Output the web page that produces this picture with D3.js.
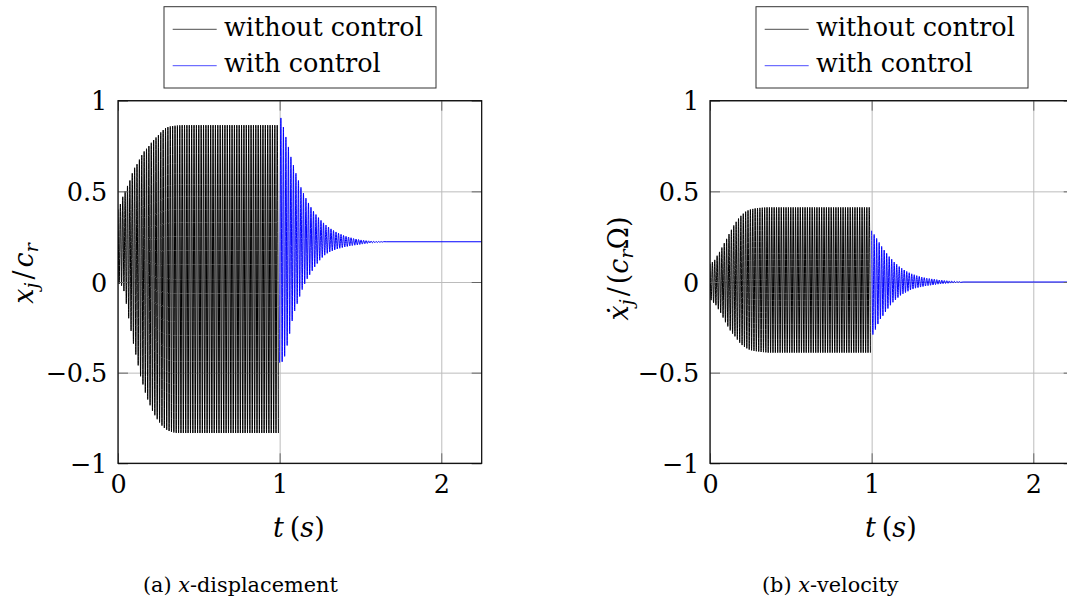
<!DOCTYPE html>
<html>
<head>
<meta charset="utf-8">
<script src="https://cdn.jsdelivr.net/npm/d3@7"></script>
<style>
  html, body { margin: 0; padding: 0; background: #fff; }
  svg { display: block; }
</style>
</head>
<body>
<svg id="fig" width="1067" height="600"></svg>
<script>
// ---- axes ----
const xTicks = [0, 1, 2];
const yTicks = [-1, -0.5, 0, 0.5, 1];
const tMax = 2.25;

// ---- oscillation timing (s) ----
const controlOn = 1.0;        // controller switched on
const periodFree = 0.0147;    // cycle length before switch-on
const periodCtrl = 0.0155;    // cycle length after switch-on

// ---- (a) x-displacement, peak values per cycle ----
const dispFreeUpper = [
  0.40, 0.43, 0.47, 0.50, 0.53, 0.56, 0.60, 0.63, 0.65, 0.675,
  0.70, 0.72, 0.735, 0.75, 0.768, 0.783, 0.797, 0.81, 0.825, 0.838,
  0.848, 0.854, 0.858, 0.86, 0.862, 0.863, 0.864, 0.865, 0.865, 0.865,
  0.865, 0.865, 0.865, 0.865, 0.865, 0.865, 0.865, 0.865, 0.865, 0.865,
  0.865, 0.865, 0.865, 0.865, 0.865, 0.865, 0.865, 0.865, 0.865, 0.865,
  0.865, 0.865, 0.865, 0.865, 0.865, 0.865, 0.865, 0.865, 0.865, 0.865,
  0.865, 0.865, 0.865, 0.865, 0.865, 0.865, 0.865, 0.865
];
const dispFreeLower = [
  -0.01, -0.02, -0.05, -0.12, -0.20, -0.27, -0.34, -0.40, -0.46, -0.52,
  -0.565, -0.61, -0.648, -0.68, -0.71, -0.735, -0.757, -0.775, -0.792, -0.805,
  -0.815, -0.822, -0.826, -0.83, -0.832, -0.833, -0.833, -0.833, -0.833, -0.833,
  -0.833, -0.833, -0.833, -0.833, -0.833, -0.833, -0.833, -0.833, -0.833, -0.833,
  -0.833, -0.833, -0.833, -0.833, -0.833, -0.833, -0.833, -0.833, -0.833, -0.833,
  -0.833, -0.833, -0.833, -0.833, -0.833, -0.833, -0.833, -0.833, -0.833, -0.833,
  -0.833, -0.833, -0.833, -0.833, -0.833, -0.833, -0.833, -0.833
];
const dispCtrlLower = [
  -0.445, -0.44, -0.41, -0.35, -0.285, -0.215, -0.16, -0.12, -0.08, -0.042,
  -0.01, 0.018, 0.04, 0.062, 0.083, 0.102, 0.12, 0.135, 0.148, 0.158,
  0.166, 0.172, 0.177, 0.182, 0.186, 0.19, 0.193, 0.196, 0.199, 0.201,
  0.203, 0.205, 0.207, 0.209, 0.211, 0.213, 0.215, 0.216, 0.217, 0.218,
  0.219, 0.22
];
const dispCtrlUpper = [
  0.905, 0.855, 0.80, 0.745, 0.69, 0.645, 0.60, 0.56, 0.522, 0.49,
  0.462, 0.436, 0.412, 0.39, 0.372, 0.355, 0.34, 0.326, 0.314, 0.303,
  0.293, 0.284, 0.276, 0.269, 0.263, 0.257, 0.252, 0.248, 0.244, 0.24,
  0.237, 0.234, 0.232, 0.23, 0.228, 0.227, 0.226, 0.225, 0.224, 0.2235,
  0.223, 0.2225
];
const dispSteady = 0.222;

// ---- (b) x-velocity, peak values per cycle ----
const velFreeUpper = [
  0.10, 0.11, 0.122, 0.145, 0.166, 0.19, 0.214, 0.238, 0.264, 0.288,
  0.312, 0.332, 0.35, 0.365, 0.377, 0.388, 0.395, 0.40, 0.403, 0.406,
  0.408, 0.409, 0.41, 0.411, 0.412, 0.412, 0.412, 0.412, 0.412, 0.412,
  0.412, 0.412, 0.412, 0.412, 0.412, 0.412, 0.412, 0.412, 0.412, 0.412,
  0.412, 0.412, 0.412, 0.412, 0.412, 0.412, 0.412, 0.412, 0.412, 0.412,
  0.412, 0.412, 0.412, 0.412, 0.412, 0.412, 0.412, 0.412, 0.412, 0.412,
  0.412, 0.412, 0.412, 0.412, 0.412, 0.412, 0.412, 0.412
];
const velFreeLower = [
  -0.10, -0.115, -0.128, -0.15, -0.17, -0.196, -0.222, -0.245, -0.267, -0.285,
  -0.30, -0.318, -0.335, -0.348, -0.358, -0.366, -0.373, -0.377, -0.38, -0.382,
  -0.384, -0.386, -0.387, -0.388, -0.39, -0.39, -0.39, -0.39, -0.39, -0.39,
  -0.39, -0.39, -0.39, -0.39, -0.39, -0.39, -0.39, -0.39, -0.39, -0.39,
  -0.39, -0.39, -0.39, -0.39, -0.39, -0.39, -0.39, -0.39, -0.39, -0.39,
  -0.39, -0.39, -0.39, -0.39, -0.39, -0.39, -0.39, -0.39, -0.39, -0.39,
  -0.39, -0.39, -0.39, -0.39, -0.39, -0.39, -0.39, -0.39
];
const velCtrlUpper = [
  0.283, 0.262, 0.240, 0.218, 0.196, 0.176, 0.158, 0.140, 0.126, 0.110,
  0.098, 0.085, 0.076, 0.066, 0.058, 0.051, 0.045, 0.040, 0.035, 0.031,
  0.027, 0.024, 0.021, 0.019, 0.017, 0.015, 0.013, 0.011, 0.010, 0.008,
  0.007, 0.006, 0.005, 0.004, 0.003, 0.002
];
const velCtrlLower = [
  -0.29, -0.262, -0.232, -0.204, -0.186, -0.165, -0.146, -0.128, -0.112, -0.099,
  -0.086, -0.074, -0.065, -0.058, -0.051, -0.044, -0.039, -0.034, -0.031, -0.028,
  -0.025, -0.022, -0.02, -0.018, -0.016, -0.014, -0.012, -0.011, -0.009, -0.008,
  -0.007, -0.006, -0.005, -0.004, -0.003, -0.002
];
const velSteady = 0;

const legendLabels = ["without control", "with control"];
const seriesColors = ["#000000", "#0000ff"];

// Interleave two peak lists into one time series: first[i] at t0 + i*p,
// second[i] half a cycle later.
function peaksToSeries(first, second, t0, p) {
  const pts = [];
  first.forEach((v, i) => {
    pts.push({ t: t0 + i * p, v });
    pts.push({ t: t0 + (i + 0.5) * p, v: second[i] });
  });
  return pts;
}

const svg = d3.select("#fig");
const serif = "DejaVu Serif";

const panelW = 363.7, panelH = 362.6, panelTop = 100.7;

function drawPanel(cfg) {
  const g = svg.append("g").attr("transform", `translate(${cfg.left},${panelTop})`);
  const x = d3.scaleLinear().domain([0, tMax]).range([0, panelW]);
  const y = d3.scaleLinear().domain([-1, 1]).range([panelH, 0]);

  const clipId = "clip-" + cfg.id;
  g.append("clipPath").attr("id", clipId)
    .append("rect").attr("width", panelW).attr("height", panelH);

  // grid
  const gridX = g.append("g").attr("transform", `translate(0,${panelH})`)
    .call(d3.axisBottom(x).tickValues(xTicks).tickSize(-panelH).tickFormat(""));
  const gridY = g.append("g")
    .call(d3.axisLeft(y).tickValues(yTicks).tickSize(-panelW).tickFormat(""));
  [gridX, gridY].forEach(s => {
    s.select(".domain").remove();
    s.selectAll("line").attr("stroke", "#bcbcbc").attr("stroke-width", 1);
  });

  // signals
  const line = d3.line().x(d => x(d.t)).y(d => y(d.v)).curve(d3.curveMonotoneX);
  const plot = g.append("g").attr("clip-path", `url(#${clipId})`);
  plot.append("path").datum(cfg.free)
    .attr("fill", "none").attr("stroke", seriesColors[0]).attr("stroke-width", 1.0)
    .attr("d", line);
  plot.append("path").datum(cfg.ctrl)
    .attr("fill", "none").attr("stroke", seriesColors[1]).attr("stroke-width", 1.0)
    .attr("d", line);

  // ticks on all four sides, pointing inward
  const tickLen = 10;
  const axB = g.append("g").attr("transform", `translate(0,${panelH})`)
    .call(d3.axisBottom(x).tickValues(xTicks).tickSizeInner(-tickLen).tickSizeOuter(0)
      .tickPadding(11.5).tickFormat(d3.format("~g")));
  const axL = g.append("g")
    .call(d3.axisLeft(y).tickValues(yTicks).tickSizeInner(-tickLen).tickSizeOuter(0)
      .tickPadding(10.7).tickFormat(d3.format("~g")));
  const axT = g.append("g")
    .call(d3.axisTop(x).tickValues(xTicks).tickSizeInner(-tickLen).tickSizeOuter(0).tickFormat(""));
  const axR = g.append("g").attr("transform", `translate(${panelW},0)`)
    .call(d3.axisRight(y).tickValues(yTicks).tickSizeInner(-tickLen).tickSizeOuter(0).tickFormat(""));
  [axB, axL, axT, axR].forEach(s => {
    s.select(".domain").remove();
    s.selectAll("line").attr("stroke", "#666").attr("stroke-width", 1);
    s.attr("font-family", serif).attr("font-size", 25.5);
    s.selectAll("text").attr("fill", "#000");
  });
  axL.selectAll("text").attr("dy", "0.36em");

  // frame
  g.append("rect").attr("width", panelW).attr("height", panelH)
    .attr("fill", "none").attr("stroke", "#000").attr("stroke-width", 1.2);

  // x label
  const xl = g.append("text").attr("x", panelW / 2 - 1).attr("y", 436.3)
    .attr("text-anchor", "middle").attr("font-family", serif).attr("font-size", 27);
  xl.append("tspan").attr("font-style", "italic").text("t");
  xl.append("tspan").attr("dx", 6).text("(");
  xl.append("tspan").attr("font-style", "italic").text("s");
  xl.append("tspan").text(")");

  // y label
  const yl = svg.append("text")
    .attr("transform", `translate(${cfg.yLabelX},${cfg.yLabelY}) rotate(-90)`)
    .attr("text-anchor", "middle").attr("font-family", serif).attr("font-size", 27);
  cfg.yLabel(yl);

  // legend
  const lg = svg.append("g").attr("transform", `translate(${cfg.left + 46},6.7)`);
  lg.append("rect").attr("width", 272).attr("height", 81.3)
    .attr("fill", "#fff").attr("stroke", "#333").attr("stroke-width", 1);
  legendLabels.forEach((lab, i) => {
    const cy = 22.6 + i * 36.4;
    lg.append("line").attr("x1", 8.7).attr("x2", 52.7).attr("y1", cy).attr("y2", cy)
      .attr("stroke", seriesColors[i]).attr("stroke-width", 0.7);
    lg.append("text").attr("x", 60).attr("y", cy + 6.6)
      .attr("font-family", serif).attr("font-size", 25.5).attr("fill", "#000").text(lab);
  });

  // caption
  const cap = svg.append("text").attr("x", cfg.capX).attr("y", 591.5)
    .attr("font-family", serif).attr("font-size", 20.8).attr("fill", "#000");
  cap.append("tspan").text(cfg.capTag + " ");
  cap.append("tspan").attr("font-style", "italic").text("x");
  cap.append("tspan").text(cfg.capText);
}

function withTail(series, steady) {
  const last = series[series.length - 1].t;
  return series.concat([{ t: last + periodCtrl, v: steady }, { t: tMax, v: steady }]);
}

drawPanel({
  id: "a", left: 118,
  free: peaksToSeries(dispFreeUpper, dispFreeLower, 0, periodFree),
  ctrl: withTail(peaksToSeries(dispCtrlLower, dispCtrlUpper, controlOn, periodCtrl), dispSteady),
  yLabelX: 33, yLabelY: 273.5,
  yLabel: t => {
    t.append("tspan").attr("font-style", "italic").text("x");
    t.append("tspan").attr("font-style", "italic").attr("font-size", 19).attr("dy", 5).text("j");
    t.append("tspan").attr("dy", -5).attr("dx", 3).text("/");
    t.append("tspan").attr("font-style", "italic").attr("dx", 3).text("c");
    t.append("tspan").attr("font-style", "italic").attr("font-size", 19).attr("dy", 5).text("r");
  },
  capX: 143, capTag: "(a)", capText: "-displacement"
});

drawPanel({
  id: "b", left: 710,
  free: peaksToSeries(velFreeUpper, velFreeLower, 0, periodFree),
  ctrl: withTail(peaksToSeries(velCtrlUpper, velCtrlLower, controlOn, periodCtrl), velSteady),
  yLabelX: 628, yLabelY: 268.5,
  yLabel: t => {
    t.append("tspan").attr("font-style", "italic").text("ẋ");
    t.append("tspan").attr("font-style", "italic").attr("font-size", 19).attr("dy", 5).text("j");
    t.append("tspan").attr("dy", -5).attr("dx", 3).text("/");
    t.append("tspan").attr("dx", 3).text("(");
    t.append("tspan").attr("font-style", "italic").text("c");
    t.append("tspan").attr("font-style", "italic").attr("font-size", 19).attr("dy", 5).text("r");
    t.append("tspan").attr("dy", -5).text("Ω");
    t.append("tspan").text(")");
  },
  capX: 762, capTag: "(b)", capText: "-velocity"
});
</script>
</body>
</html>
